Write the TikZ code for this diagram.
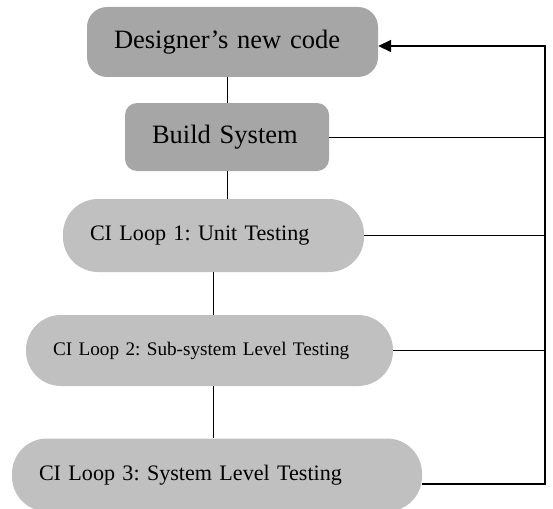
\documentclass[tikz,border=0pt]{standalone}
\usepackage{fontspec}
\setmainfont{Liberation Serif}
\usetikzlibrary{arrows.meta}
\frenchspacing
\definecolor{boxdark}{HTML}{A6A6A6}
\definecolor{boxlight}{HTML}{C0C0C0}
\tikzset{
    node style dk/.style={fill=boxdark,inner xsep=27pt,align=left,minimum height=70pt},
    node style lt/.style={fill=boxlight,inner xsep=27pt,align=left,minimum height=72pt,rounded corners=35pt},
    line style fb/.style={line width=0.8pt},
    line style rt/.style={line width=1.6pt},
}

\begin{document}
\begin{tikzpicture}[x=1pt,y=-1pt,>={Triangle[length=13pt,width=12pt]}]
\useasboundingbox (0,0) rectangle (553,508);
\clip (0,0) rectangle (553,508);

\node (dnc) [node style dk,rounded corners=20pt,text width=237pt,font=\fontsize{26.5}{30}\selectfont] at (232.5,42) {Designer's new code};
\node (bs) [node style dk,rounded corners=12pt,minimum height=68pt,text width=150pt,font=\fontsize{26.5}{30}\selectfont] at (227,137) {Build System};
\node (ci1) [node style lt,minimum height=73pt,text width=247pt,font=\fontsize{22.1}{27}\selectfont] at (213.5,235.5) {CI Loop 1: Unit Testing};
\node (ci2) [node style lt,minimum height=71pt,text width=313pt,font=\fontsize{19.2}{24}\selectfont] at (209.5,350.5) {CI Loop 2: Sub-system Level Testing};
\node (ci3) [node style lt,minimum height=73pt,text width=356pt,font=\fontsize{22.1}{27}\selectfont] at (217,475) {CI Loop 3: System Level Testing};

\coordinate (rail) at (545,0);

% down the chain
\draw [line style fb] (bs.north |- dnc.south) -- (bs.north);
\draw [line style fb] (bs.south) -- (bs.south |- ci1.north);
\draw [line style fb] (ci1.south) -- (ci1.south |- ci2.north);
\draw [line style fb] (ci2.south -| ci1) -- (ci3.north -| ci1);

% back to the designer
\draw [line style fb] (bs.east) -- (bs.east -| rail);
\draw [line style fb] (ci1.east) -- (ci1.east -| rail);
\draw [line style fb] (ci2.east) -- (ci2.east -| rail);
\draw [line style rt,->] ([yshift=-9pt]ci3.east) -- ([yshift=-9pt]ci3.east -| rail) -- ([yshift=-4pt]dnc.east -| rail) -- ([yshift=-4pt]dnc.east);

\end{tikzpicture}
\end{document}
